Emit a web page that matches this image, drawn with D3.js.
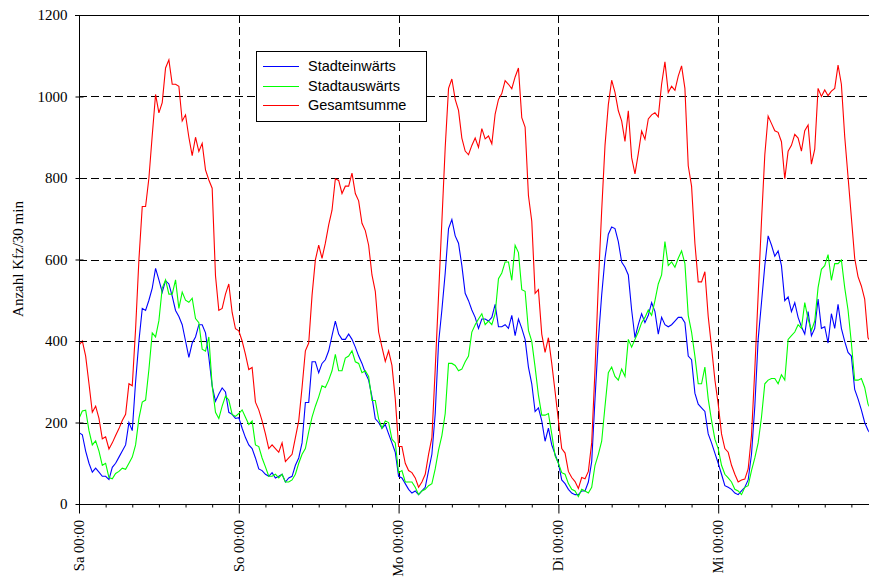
<!DOCTYPE html>
<html>
<head>
<meta charset="utf-8">
<script src="https://cdn.jsdelivr.net/npm/d3@7"></script>
<style>
  html, body { margin: 0; padding: 0; background: #fff; }
  svg { display: block; }
</style>
</head>
<body>
<svg id="chart" width="869" height="579"></svg>
<script>
// ---- data (30-minute counts, starting Sa 00:00) ----
const stepHours = 0.5;
const dayLabels = ["Sa 00:00", "So 00:00", "Mo 00:00", "Di 00:00", "Mi 00:00", "Do 00:00"];
const yTicks = [0, 200, 400, 600, 800, 1000, 1200];
const seriesNames = ["Stadteinwärts", "Stadtauswärts", "Gesamtsumme"];
const seriesColors = ["#0000ff", "#00ff00", "#ff0000"];

const stadteinwaerts = [
  175,170,130,100,78,88,78,68,68,60, 90,100,115,130,145,200,180,300,400,480,
  475,500,530,578,550,520,548,540,510,475, 460,440,400,360,395,410,440,440,420,360,
  290,252,270,285,275,225,220,210,
  212,186,163,145,136,113,86,82,73,68, 77,64,68,73,54,64,68,95,113,150,
  249,249,349,349,322,345,354,376,413,449, 417,404,404,417,404,385,363,345,322,304,
  263,209,200,186,195,172,150,127,
  68,64,50,36,27,32,23,32,41,82, 122,222,395,476,567,676,698,658,640,585,
  517,499,476,458,431,454,454,449,458,490, 435,435,440,431,463,413,454,431,404,336,
  295,227,236,204,154,186,145,122,
  100,59,50,36,27,23,23,32,32,54, 104,258,404,513,603,662,680,676,644,594,
  581,562,476,408,440,467,445,463,494,472, 417,458,440,435,440,449,458,458,445,363,
  354,272,245,236,227,172,150,125,
  100,73,45,41,36,27,23,32,41,59, 122,240,404,494,585,658,635,608,621,585,
  499,508,472,494,458,435,417,472,413,431, 503,431,435,395,467,431,490,431,399,372,
  363,281,258,231,200,181,170,160
];

const stadtauswaerts = [
  210,228,230,180,145,155,130,95,100,65, 62,75,80,88,85,100,115,145,210,250,
  255,330,420,410,450,530,550,515,515,550, 480,520,500,495,505,455,445,380,375,410,
  290,225,210,240,265,255,220,215,
  222,231,213,195,204,145,141,113,91,68, 68,73,64,73,54,54,59,73,100,122,
  136,177,213,240,263,290,286,304,327,367, 327,327,358,363,376,349,345,322,327,313,
  254,254,209,186,204,200,159,150,
  77,82,54,54,54,41,23,32,36,45, 50,86,132,168,222,345,345,340,327,331,
  349,363,422,440,454,467,440,449,440,467, 553,567,594,594,549,635,617,526,522,426,
  399,336,267,218,218,222,172,118,
  100,77,73,50,36,32,18,36,32,27, 41,95,122,154,240,322,336,313,304,331,
  313,404,385,404,422,445,458,476,463,499, 540,562,644,585,594,581,603,621,590,463,
  422,363,295,295,336,258,205,159,
  136,95,73,64,54,36,32,23,41,45, 82,113,150,213,295,304,308,308,295,317,
  304,404,413,422,440,431,494,454,426,449, 531,576,585,612,549,590,590,599,531,476,
  395,304,304,308,286,245,230,215
];

const gesamtsumme = [
  390,400,363,295,225,240,210,160,165,135, 150,168,185,205,220,295,290,430,600,730,
  730,800,905,1005,960,985,1070,1090,1030,1030, 1025,940,955,900,855,900,865,885,820,795,
  775,560,475,480,515,540,470,430,
  425,400,367,330,335,250,231,204,172,136, 145,136,127,150,104,113,122,163,204,286,
  376,395,512,599,635,603,640,685,721,798, 794,762,780,780,812,762,744,689,671,635,
  562,522,422,385,350,376,340,258,
  141,141,100,82,77,64,41,54,73,122, 163,331,512,694,875,1020,1043,993,966,898,
  866,857,880,898,875,921,896,903,884,957, 993,1007,1039,1030,1019,1048,1070,948,925,757,
  694,517,526,417,372,408,345,276,
  205,136,125,80,65,55,38,65,62,80, 150,330,540,720,880,980,1040,1010,965,940,
  890,965,850,810,860,915,895,945,955,960, 950,1030,1085,1010,1025,1015,1050,1075,1020,830,
  780,640,545,545,570,460,385,305,
  245,172,136,127,95,73,54,59,61,86, 168,331,512,694,857,952,934,916,912,889,
  798,866,880,907,898,866,916,930,834,871, 1020,1000,1016,1002,1013,1020,1077,1030,902,803,
  703,603,558,535,503,408,395,380
];

(function () {
  const W = 869;
  const svg = d3.select("#chart");
  const plotLeft = 79, plotTop = 15, plotBottom = 504, dayPx = 159.8;
  const totalHours = (dayLabels.length - 1) * 24;
  const x = d3.scaleLinear().domain([0, totalHours]).range([plotLeft, plotLeft + dayPx * (dayLabels.length - 1)]);
  const y = d3.scaleLinear().domain([0, 1200]).range([plotBottom, plotTop]);
  const serif = "'Liberation Serif','Times New Roman',serif";
  const sans = "'Liberation Sans',Arial,sans-serif";
  const xRight = x.range()[1];

  svg.append("defs").append("clipPath").attr("id", "plotclip")
    .append("rect").attr("x", plotLeft).attr("y", plotTop - 1)
    .attr("width", xRight - plotLeft).attr("height", plotBottom - plotTop + 2);

  // grid lines
  const grid = svg.append("g").attr("stroke", "#000").attr("stroke-width", 1).attr("stroke-dasharray", "8,4");
  grid.selectAll("line.h").data(yTicks.filter(v => v > 0 && v < 1200)).join("line")
    .attr("class", "h").attr("x1", plotLeft).attr("x2", xRight)
    .attr("y1", d => Math.round(y(d)) + 0.5).attr("y2", d => Math.round(y(d)) + 0.5);
  grid.selectAll("line.v").data(d3.range(1, dayLabels.length - 1).map(d => d * 24)).join("line")
    .attr("class", "v").attr("y1", plotTop).attr("y2", plotBottom)
    .attr("x1", d => Math.round(x(d)) + 0.5).attr("x2", d => Math.round(x(d)) + 0.5);

  // frame top
  svg.append("line").attr("x1", plotLeft - 4).attr("x2", xRight)
    .attr("y1", plotTop + 0.5).attr("y2", plotTop + 0.5).attr("stroke", "#000");

  // series lines
  const line = d3.line().x(d => x(d[0])).y(d => y(d[1]));
  const allSeries = [stadteinwaerts, stadtauswaerts, gesamtsumme];
  const lines = svg.append("g").attr("clip-path", "url(#plotclip)");
  allSeries.forEach((s, k) => {
    lines.append("path")
      .datum(s.map((v, i) => [i * stepHours, v]))
      .attr("fill", "none").attr("stroke", seriesColors[k]).attr("stroke-width", 1.1)
      .attr("d", line);
  });

  // y axis
  const yAxis = svg.append("g").attr("transform", `translate(${plotLeft + 0.5},0)`)
    .call(d3.axisLeft(y).tickValues(yTicks).tickSize(4).tickPadding(8).tickFormat(d3.format("d")));
  yAxis.select(".domain").attr("d", `M0,${plotTop}V${plotBottom}`);
  yAxis.selectAll(".tick line").attr("x1", 4).attr("x2", -4);
  yAxis.selectAll("text").attr("font-family", serif).attr("font-size", 15).attr("fill", "#000");

  // x axis
  const xAxis = svg.append("g").attr("transform", `translate(0,${plotBottom + 0.5})`)
    .call(d3.axisBottom(x).tickValues(d3.range(0, totalHours + 1, 4)).tickSize(3).tickFormat(""));
  xAxis.select(".domain").attr("d", `M${plotLeft},0H${xRight}`);
  xAxis.selectAll(".tick line").attr("y2", d => d % 24 === 0 ? 9 : 3);

  // day labels (only those whose tick lies inside the visible picture)
  const visibleLabels = dayLabels.map((d, i) => ({ label: d, h: i * 24 })).filter(d => x(d.h) < W - 8);
  svg.append("g").selectAll("text").data(visibleLabels).join("text")
    .attr("transform", d => `translate(${x(d.h)},520) rotate(-90)`)
    .attr("text-anchor", "end").attr("dy", "0.33em")
    .attr("font-family", serif).attr("font-size", 14.5).attr("fill", "#000")
    .text(d => d.label);

  // y title
  svg.append("text").attr("transform", "translate(18,259) rotate(-90)")
    .attr("text-anchor", "middle").attr("dy", "0.35em")
    .attr("font-family", serif).attr("font-size", 15).attr("fill", "#000")
    .text("Anzahl Kfz/30 min");

  // legend
  const lg = svg.append("g");
  lg.append("rect").attr("x", 256.5).attr("y", 51.5).attr("width", 170).attr("height", 70)
    .attr("fill", "#fff").attr("stroke", "#000").attr("stroke-width", 1);
  const rowsY = [66, 86, 105];
  seriesNames.forEach((name, k) => {
    lg.append("line").attr("x1", 263).attr("x2", 299).attr("y1", rowsY[k] + 0.5).attr("y2", rowsY[k] + 0.5)
      .attr("stroke", seriesColors[k]).attr("stroke-width", 1.1);
    lg.append("text").attr("x", 308).attr("y", rowsY[k]).attr("dy", "0.35em")
      .attr("font-family", sans).attr("font-size", 14.5).attr("fill", "#000").text(name);
  });
})();
</script>
</body>
</html>
